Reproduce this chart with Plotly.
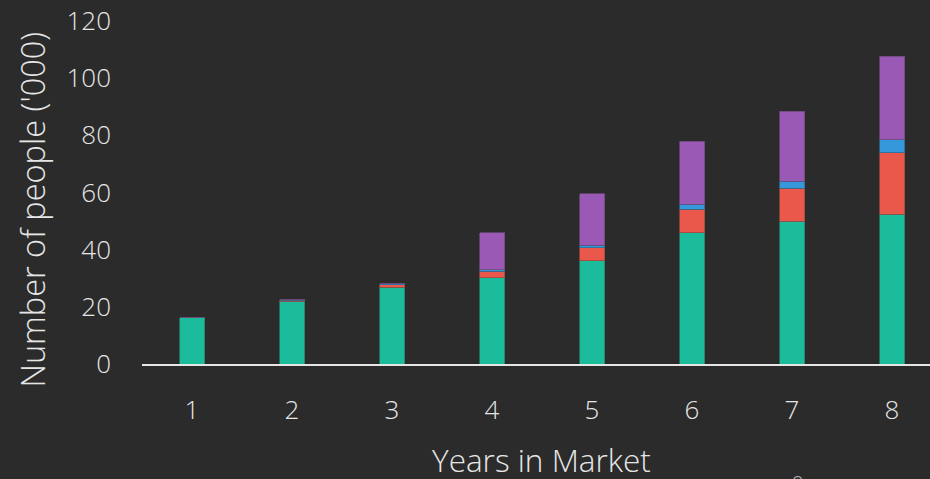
import plotly.graph_objects as go

years = [1, 2, 3, 4, 5, 6, 7, 8]
series_names = ["Segment A", "Segment B", "Segment C", "Segment D"]
green_vals = [16.1, 21.9, 26.8, 30.2, 36.2, 46.0, 49.9, 52.4]
red_vals = [0.0, 0.4, 0.9, 2.2, 4.5, 8.2, 11.6, 21.5]
blue_vals = [0.0, 0.1, 0.3, 0.5, 0.9, 1.7, 2.4, 4.6]
purple_vals = [0.0, 0.0, 0.0, 13.0, 17.9, 22.1, 24.5, 29.1]
colors = ["#1abc9c", "#e9584a", "#3498db", "#9b59b6"]
edge_colors = ["#2a7a68", "#9a4a40", "#2f6a90", "#6a4a7a"]
y_ticks = [0, 20, 40, 60, 80, 100, 120]

BG = "#2b2b2b"
TXT = "#e6e6e6"
FONT = "Open Sans"

fig = go.Figure()
for name, vals, c, ec in zip(series_names, [green_vals, red_vals, blue_vals, purple_vals], colors, edge_colors):
    fig.add_trace(go.Bar(
        x=years, y=vals, name=name, width=0.25,
        marker=dict(color=c, line=dict(color=ec, width=0.8)),
    ))

fig.update_layout(
    width=930, height=479,
    barmode="stack",
    paper_bgcolor=BG, plot_bgcolor=BG,
    showlegend=False,
    margin=dict(l=142, r=0, t=21, b=115),
    font=dict(family=FONT, color=TXT, size=26, weight=300),
    xaxis=dict(
        range=[0.5, 8.38], tickvals=years, ticktext=[str(v) for v in years],
        showgrid=False, zeroline=False, showline=True, linecolor="#e6e6e6", linewidth=2,
        ticks="", ticklabelstandoff=22,
        tickfont=dict(size=26, color=TXT, family=FONT, weight=300),
    ),
    yaxis=dict(
        range=[0, 120], tickvals=y_ticks, showgrid=False, zeroline=False, showline=False,
        ticks="", ticklabelstandoff=30,
        tickfont=dict(size=26, color=TXT, family=FONT, weight=300),
    ),
    annotations=[
        dict(text="Years in Market", xref="paper", yref="paper", x=0.5075, y=-0.2,
             xanchor="center", yanchor="top", showarrow=False, yshift=-3,
             font=dict(size=31.5, color=TXT, family=FONT, weight=300)),
        dict(text="Number of people ('000)", xref="paper", yref="paper", x=-0.1385, y=0.45,
             xanchor="center", yanchor="middle", textangle=-90, showarrow=False,
             font=dict(size=32.5, color=TXT, family=FONT, weight=300)),
        dict(text="8", xref="paper", yref="paper", x=0.832, y=-0.335,
             xanchor="center", yanchor="top", showarrow=False, yshift=11,
             font=dict(size=20, color="#bdbdbd", family=FONT, weight=300)),
    ],
)

fig.write_html("out.html", post_script="document.body.style.margin='0';",
               config={"displayModeBar": False})
